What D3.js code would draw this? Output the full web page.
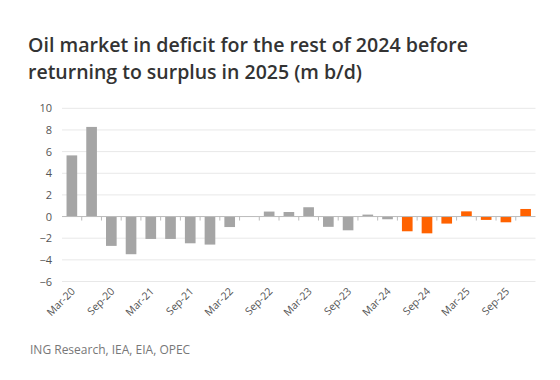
<!DOCTYPE html>
<html><head><meta charset="utf-8">
<script src="https://cdn.jsdelivr.net/npm/d3@7"></script>
<style>
body{margin:0;background:#fff;}
svg{display:block;}
</style></head>
<body>
<svg id="chart" width="560" height="380"></svg>
<script>
const categories = ["Mar-20","Jun-20","Sep-20","Dec-20","Mar-21","Jun-21","Sep-21","Dec-21","Mar-22","Jun-22","Sep-22","Dec-22","Mar-23","Jun-23","Sep-23","Dec-23","Mar-24","Jun-24","Sep-24","Dec-24","Mar-25","Jun-25","Sep-25","Dec-25"];
const balance = [5.65,8.28,-2.71,-3.48,-2.07,-2.07,-2.47,-2.59,-0.97,-0.03,0.46,0.42,0.86,-0.95,-1.27,0.18,-0.25,-1.36,-1.55,-0.65,0.48,-0.31,-0.53,0.7];
const forecastStart = "Jun-24";
const yTicks = [10,8,6,4,2,0,-2,-4,-6];
const xLabels = ["Mar-20","Sep-20","Mar-21","Sep-21","Mar-22","Sep-22","Mar-23","Sep-23","Mar-24","Sep-24","Mar-25","Sep-25"];
const title = ["Oil market in deficit for the rest of 2024 before","returning to surplus in 2025 (m b/d)"];
const source = "ING Research, IEA, EIA, OPEC";

const svg = d3.select("#chart");
const font = "'Open Sans', sans-serif";

svg.append("g").selectAll("text").data(title).join("text")
  .attr("x", 28).attr("y", (d,i)=>52 + i*26.5)
  .attr("font-family", font).attr("font-size", 20).attr("font-weight", 600).attr("fill", "#333")
  .attr("textLength", (d,i)=> i===0 ? 440 : 334).attr("lengthAdjust", "spacingAndGlyphs")
  .text(d=>d);

const x = d3.scaleBand().domain(categories).range([62, 535.5]).paddingInner(0.46).paddingOuter(0.23);
const y = d3.scaleLinear().domain([-6, 10]).range([281.5, 108.3]);

// gridlines
svg.append("g").selectAll("line").data(yTicks.filter(d=>d!==0)).join("line")
  .attr("x1", 62).attr("x2", 535.5)
  .attr("y1", d=>y(d)).attr("y2", d=>y(d))
  .attr("stroke", "#e8e8e8").attr("stroke-width", 1);

// y axis labels
const yAxis = d3.axisLeft(y).tickValues(yTicks).tickSize(0).tickPadding(10);
const gy = svg.append("g").attr("transform", "translate(62,0)").call(yAxis);
gy.select(".domain").remove();
gy.selectAll("text").attr("font-family", font).attr("font-size", 11).attr("fill", "#555");

// bars
const fi = categories.indexOf(forecastStart);
svg.append("g").selectAll("rect").data(categories).join("rect")
  .attr("x", d=>x(d))
  .attr("width", x.bandwidth())
  .attr("y", (d,i)=>y(Math.max(0, balance[i])))
  .attr("height", (d,i)=>Math.abs(y(balance[i]) - y(0)))
  .attr("fill", (d,i)=> i >= fi ? "#ff6200" : "#a5a5a5");

// zero axis line with ticks at band boundaries
const step = x.step();
svg.append("line").attr("x1", 62).attr("x2", 535.5).attr("y1", y(0)).attr("y2", y(0))
  .attr("stroke", "#bbb").attr("stroke-width", 1);
svg.append("g").selectAll("line").data(d3.range(1, categories.length)).join("line")
  .attr("x1", i=>x(categories[i]) - (step - x.bandwidth())/2)
  .attr("x2", i=>x(categories[i]) - (step - x.bandwidth())/2)
  .attr("y1", y(0)).attr("y2", y(0)+4)
  .attr("stroke", "#bbb").attr("stroke-width", 1);

// x labels
svg.append("g").selectAll("text").data(xLabels).join("text")
  .attr("transform", d=>`translate(${x(d)+x.bandwidth()/2+4},${292}) rotate(-45)`)
  .attr("text-anchor", "end")
  .attr("font-family", font).attr("font-size", 10.5).attr("fill", "#555")
  .text(d=>d);

svg.append("text").attr("x", 30).attr("y", 354)
  .attr("font-family", font).attr("font-size", 12).attr("fill", "#777")
  .text(source);
</script>
</body></html>
